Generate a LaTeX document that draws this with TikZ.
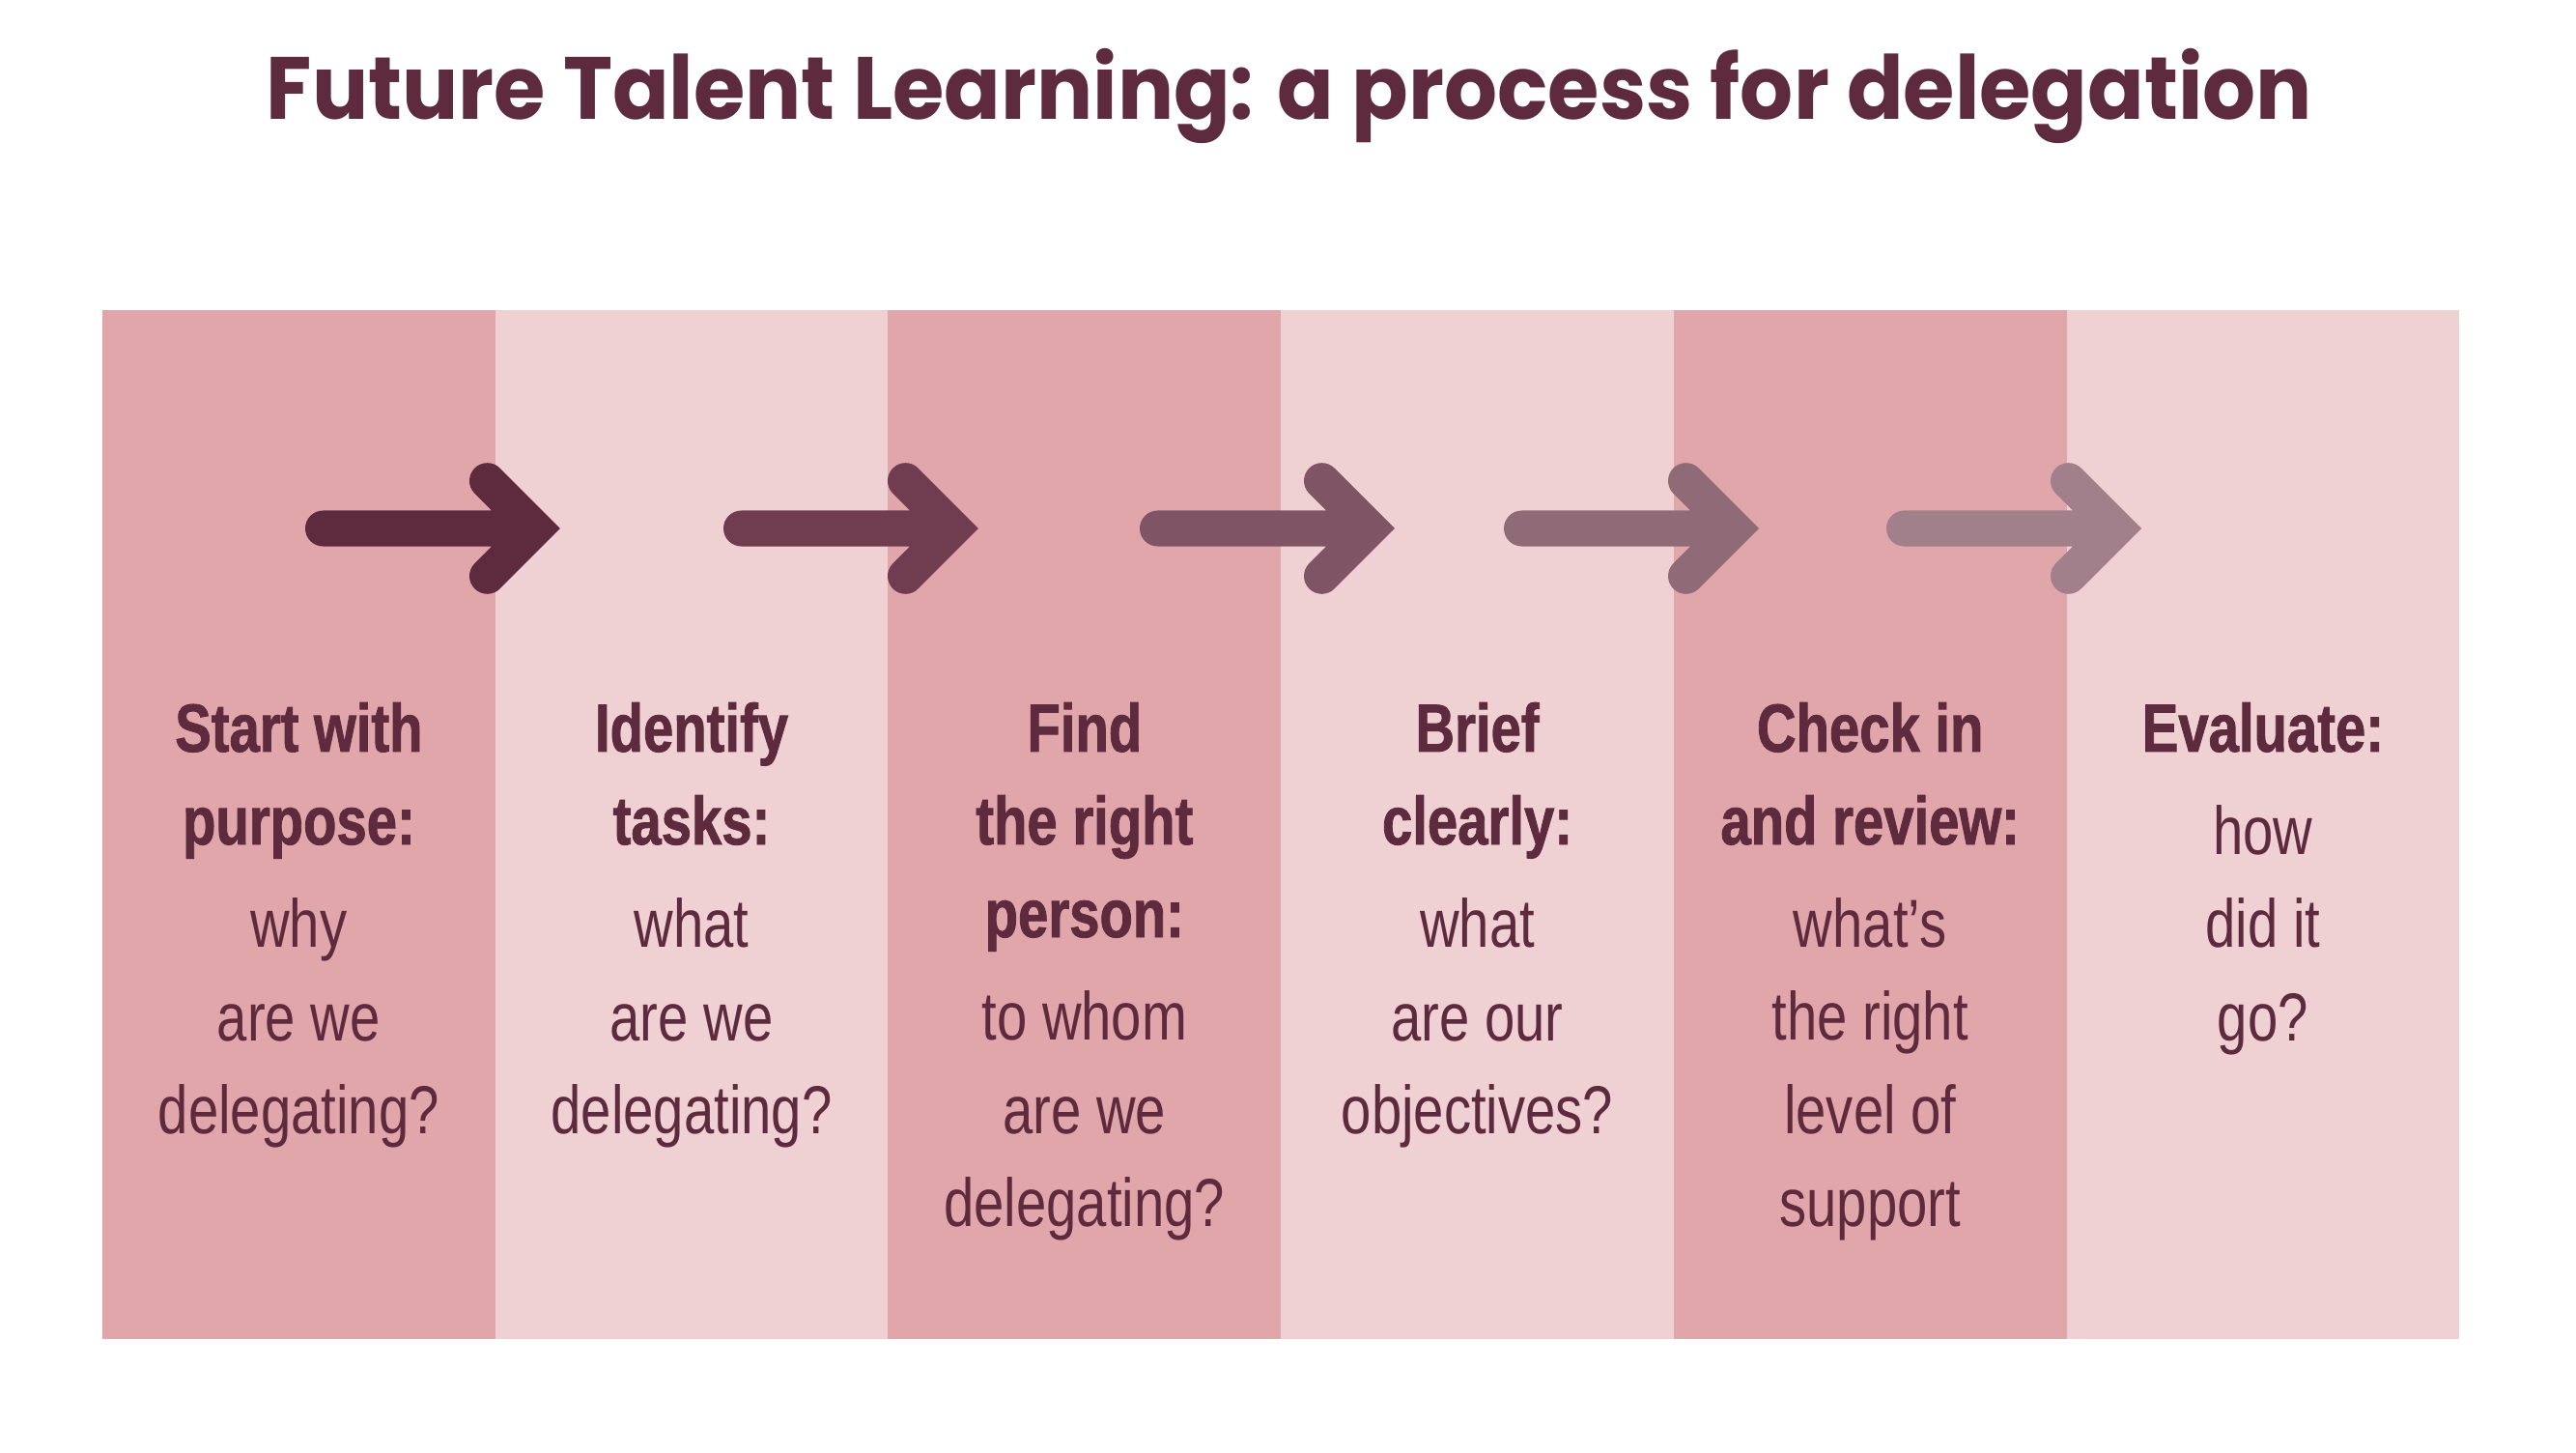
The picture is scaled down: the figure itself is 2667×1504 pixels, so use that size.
\documentclass[tikz,border=0pt]{standalone}
\usepackage{fontspec}
\setmainfont{Liberation Sans}[FakeStretch=0.8, BoldFeatures={FakeBold=1.2}]
\newfontfamily\titlefont{Poppins}[FakeStretch=0.945]
\tikzset{>=latex}
\definecolor{plum}{HTML}{5E2A3E}
\definecolor{rosedark}{HTML}{E0A6AA}
\definecolor{roselight}{HTML}{EFD1D4}
\definecolor{arrowA}{HTML}{5E2A3E}
\definecolor{arrowB}{HTML}{6F3C50}
\definecolor{arrowC}{HTML}{7F5566}
\definecolor{arrowD}{HTML}{8F6A77}
\definecolor{arrowE}{HTML}{A17F8B}
\tikzset{
  heading/.style = {anchor=base, align=center, inner sep=0pt, text=plum,
                    font=\fontsize{20}{27.3}\selectfont\bfseries},
  body/.style    = {anchor=base, align=center, inner sep=0pt, text=plum,
                    font=\fontsize{20}{27.3}\selectfont},
  stroke/.style  = {line width=0.37cm, line cap=round, line join=miter}
}

\begin{document}
\begin{tikzpicture}[x=0.01cm,y=-0.01cm]
  \fill[white] (0,0) rectangle (2667,1504);
  \useasboundingbox (0,0) rectangle (2667,1504);
  % title
  \node[anchor=base, inner sep=0pt, text=plum,
        font=\titlefont\fontsize{26}{30}\selectfont\bfseries]
       (title) at (1335,124) {Future Talent Learning: a process for delegation};
  % bands
  \foreach \i/\c in {0/rosedark,1/roselight,2/rosedark,3/roselight,4/rosedark,5/roselight}
    \fill[\c] (106+406.7*\i,321) rectangle (512.7+406.7*\i,1386);
  % arrows
  \foreach \s/\c in {316/arrowA,749/arrowB,1180/arrowC,1557/arrowD,1953/arrowE}
    \draw[stroke,\c] (\s+18.5,547) -- (\s+237.8,547)
                     (\s+188.5,497.7) -- (\s+237.8,547) -- (\s+188.5,596.3);
  % steps (anchored at the baseline of the last line)
  \node[heading] (h1) at (309.4,874) {Start with\\purpose:};
  \node[body]    (b1) at (309.4,1173) {why\\are we\\delegating?};
  \node[heading] (h2) at (716,874) {Identify\\tasks:};
  \node[body]    (b2) at (716,1173) {what\\are we\\delegating?};
  \node[heading] (h3) at (1122.8,970) {Find\\the right\\person:};
  \node[body]    (b3) at (1122.8,1269) {to whom\\are we\\delegating?};
  \node[heading] (h4) at (1529.5,874) {Brief\\clearly:};
  \node[body]    (b4) at (1529.5,1173) {what\\are our\\objectives?};
  \node[heading] (h5) at (1936.2,874) {Check in\\and review:};
  \node[body]    (b5) at (1936.2,1269) {what’s\\the right\\level of\\support};
  \node[heading] (h6) at (2342.9,778) {Evaluate:};
  \node[body]    (b6) at (2342.9,1077) {how\\did it\\go?};
\end{tikzpicture}
\end{document}
